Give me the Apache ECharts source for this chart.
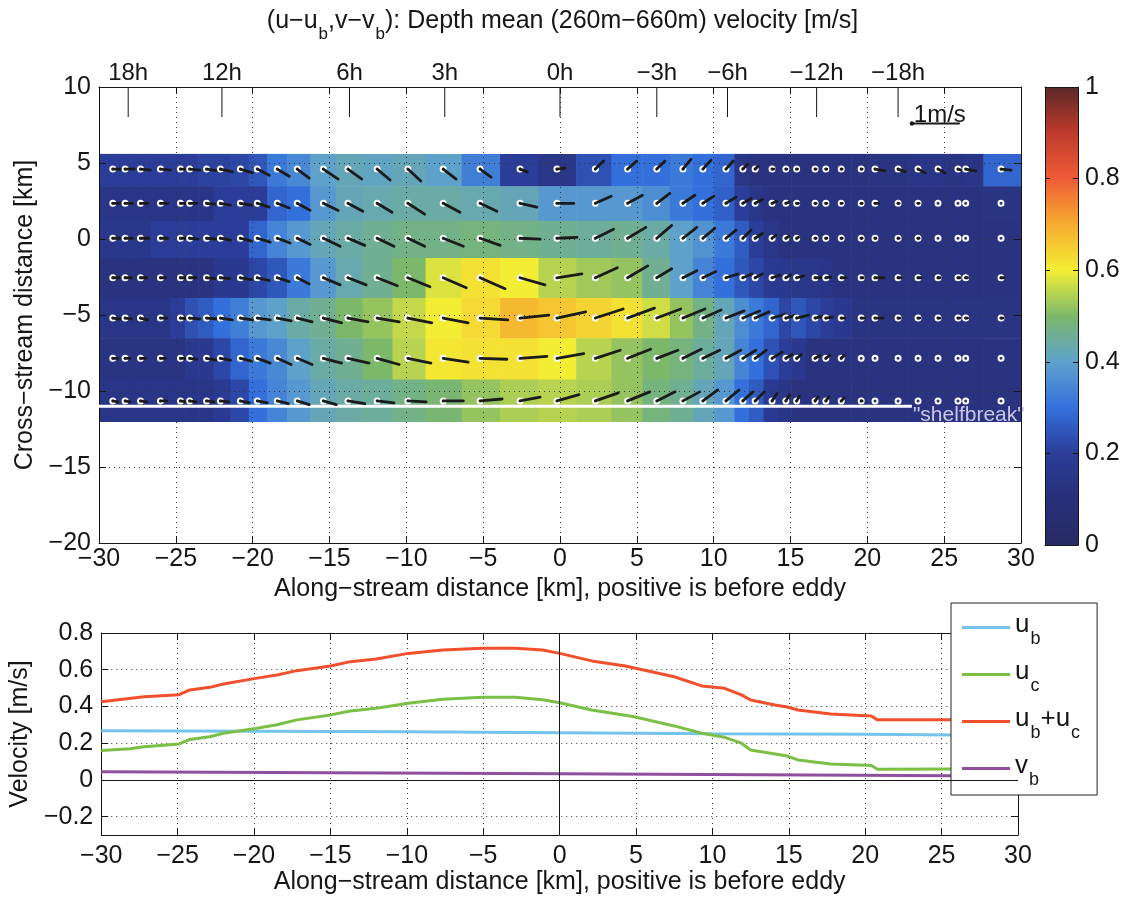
<!DOCTYPE html>
<html>
<head>
<meta charset="utf-8">
<script src="https://cdn.jsdelivr.net/npm/echarts@6/dist/echarts.min.js"></script>
<style>
  html, body { margin: 0; padding: 0; background: #fff; }
  #chart { width: 1125px; height: 901px; }
</style>
</head>
<body>
<div id="chart"></div>
<script>
// ---------------- data ----------------
// along-stream positions of the velocity profiles [km]
const stationKm = [-29.1,-28.3,-27.3,-26.0,-24.7,-24.1,-23.0,-22.1,-20.8,-19.7,-18.4,-17.1,-15.4,-13.8,-11.9,-9.9,-7.6,-5.2,-2.6,-0.2,
                   2.3,4.4,6.3,8.0,9.3,10.8,11.9,12.7,13.8,14.7,15.4,16.6,17.3,18.3,19.6,20.5,22.0,23.3,24.6,25.9,26.4,28.7];
// cross-stream positions of the profile rows [km], top to bottom
const rowKm = [4.6, 2.35, 0.05, -2.55, -5.2, -7.85, -10.65];
const fieldTopKm = 5.6;
const fieldBottomKm = -12.0;

// speed shown by the colour field [m/s], one array per row (top to bottom)
const speedRow1 = [0.2,0.2,0.2,0.2,0.2,0.2,0.21,0.21,0.22,0.25,0.32,0.35,0.4,0.42,0.41,0.42,0.4,0.33,0.2,0.15,0.24,0.3,0.3,0.32,0.3,0.28,0.15,0.12,0.12,0.12,0.12,0.12,0.12,0.12,0.12,0.13,0.13,0.14,0.14,0.13,0.14,0.28];
const speedRow2 = [0.14,0.14,0.14,0.14,0.14,0.14,0.14,0.2,0.2,0.2,0.28,0.3,0.38,0.42,0.43,0.44,0.44,0.43,0.42,0.38,0.38,0.38,0.36,0.32,0.3,0.27,0.2,0.15,0.12,0.12,0.12,0.12,0.12,0.12,0.12,0.12,0.12,0.12,0.12,0.12,0.12,0.13];
const speedRow3 = [0.16,0.16,0.16,0.2,0.2,0.2,0.2,0.2,0.2,0.28,0.34,0.38,0.42,0.44,0.46,0.47,0.47,0.48,0.47,0.46,0.45,0.46,0.44,0.4,0.37,0.32,0.26,0.2,0.15,0.12,0.12,0.12,0.12,0.12,0.12,0.12,0.12,0.12,0.12,0.12,0.12,0.12];
const speedRow4 = [0.12,0.12,0.12,0.12,0.12,0.12,0.12,0.17,0.17,0.22,0.25,0.32,0.38,0.43,0.46,0.5,0.58,0.62,0.6,0.55,0.53,0.52,0.46,0.4,0.34,0.3,0.25,0.22,0.18,0.17,0.16,0.15,0.14,0.12,0.12,0.12,0.12,0.12,0.12,0.12,0.12,0.12];
const speedRow5 = [0.14,0.14,0.14,0.14,0.2,0.24,0.26,0.3,0.33,0.38,0.4,0.44,0.46,0.5,0.52,0.56,0.6,0.63,0.68,0.66,0.64,0.62,0.57,0.52,0.47,0.42,0.36,0.32,0.28,0.22,0.25,0.22,0.2,0.17,0.13,0.13,0.13,0.13,0.13,0.13,0.13,0.13];
const speedRow6 = [0.13,0.13,0.13,0.13,0.13,0.17,0.17,0.22,0.28,0.32,0.35,0.4,0.44,0.46,0.5,0.55,0.61,0.62,0.62,0.6,0.55,0.52,0.5,0.48,0.45,0.42,0.34,0.3,0.24,0.2,0.17,0.12,0.12,0.12,0.12,0.12,0.12,0.12,0.12,0.12,0.12,0.12];
const speedRow7 = [0.14,0.14,0.14,0.14,0.14,0.14,0.14,0.18,0.22,0.3,0.34,0.38,0.42,0.44,0.45,0.47,0.49,0.52,0.54,0.55,0.54,0.52,0.48,0.46,0.42,0.38,0.3,0.26,0.18,0.15,0.12,0.12,0.12,0.12,0.12,0.12,0.12,0.12,0.12,0.12,0.12,0.12];

// velocity vectors (u east, v north) [m/s], one array per row
const uRow1 = [0.21,0.19,0.21,0.21,0.21,0.21,0.25,0.25,0.25,0.25,0.25,0.25,0.31,0.29,0.27,0.27,0.27,0.23,0.15,0.17,0.17,0.19,0.17,0.17,0.17,0.15,0.10,0.06,0.04,0.02,0.02,0.02,0.02,0.02,0.02,0.21,0.15,0.15,0.15,0.06,0.21,0.21];
const vRow1 = [0,0,-0.02,-0.02,0,-0.02,-0.04,-0.06,-0.08,-0.13,-0.15,-0.19,-0.21,-0.21,-0.23,-0.25,-0.21,-0.17,-0.06,0.02,0.17,0.17,0.17,0.21,0.19,0.17,0.10,0.06,0,0,0,0,0,0,0,-0.04,-0.06,-0.08,-0.08,-0.02,-0.04,-0.02];
const uRow2 = [0.15,0.15,0.15,0.15,0.15,0.15,0.17,0.21,0.23,0.25,0.25,0.27,0.31,0.31,0.31,0.35,0.35,0.35,0.35,0.35,0.33,0.31,0.27,0.25,0.23,0.21,0.17,0.15,0.10,0.06,0.04,0.02,0.02,0.02,0.02,0.08,0.02,0.02,0,0,0,0];
const vRow2 = [0,0,0,0,0,0,-0.02,-0.04,-0.04,-0.08,-0.10,-0.15,-0.15,-0.17,-0.19,-0.23,-0.19,-0.17,-0.08,0,0.15,0.17,0.21,0.17,0.15,0.13,0.10,0.08,0.04,0.02,0,0,0,0,0,0,0,0,0,0,0,0];
const uRow3 = [0.15,0.15,0.17,0.15,0.17,0.17,0.19,0.21,0.23,0.27,0.27,0.27,0.35,0.35,0.35,0.35,0.42,0.42,0.42,0.42,0.38,0.38,0.31,0.29,0.25,0.21,0.17,0.15,0.08,0.06,0.04,0.02,0.02,0.02,0.02,0.02,0.02,0.02,0,0,0,0];
const vRow3 = [0,0,0,0,0,-0.02,-0.02,-0.04,-0.06,-0.08,-0.10,-0.13,-0.17,-0.15,-0.17,-0.17,-0.17,-0.15,-0.02,0.02,0.19,0.23,0.27,0.23,0.21,0.17,0.17,0.10,0.06,0.04,0.02,0,0,0,0,0,0,0,0,0,0,0];
const uRow4 = [0.13,0.13,0.13,0.10,0.13,0.13,0.17,0.19,0.23,0.25,0.25,0.25,0.35,0.38,0.42,0.46,0.48,0.52,0.52,0.52,0.46,0.42,0.31,0.29,0.27,0.25,0.19,0.15,0.17,0.10,0.15,0.13,0.10,0.10,0.04,0.19,0.06,0.06,0.04,0.04,0.04,0.06];
const vRow4 = [0,0,0,0,0,0,-0.02,-0.02,-0.04,-0.06,-0.08,-0.13,-0.15,-0.15,-0.17,-0.19,-0.21,-0.23,-0.15,0.08,0.21,0.25,0.19,0.15,0.13,0.08,0.08,0.08,0.06,0.06,0.04,0,0.02,0,0,0,0,0,0,0,0,0];
const uRow5 = [0.15,0.13,0.15,0.13,0.21,0.21,0.23,0.25,0.25,0.27,0.29,0.31,0.38,0.42,0.46,0.50,0.52,0.58,0.60,0.60,0.58,0.56,0.50,0.46,0.38,0.38,0.35,0.29,0.27,0.21,0.25,0.17,0.13,0.08,0.06,0.17,0.04,0.04,0.04,0.04,0.04,0.04];
const vRow5 = [-0.02,-0.02,-0.04,0,-0.02,-0.02,-0.02,-0.04,-0.04,-0.04,-0.06,-0.08,-0.10,-0.08,-0.08,-0.10,-0.10,-0.04,0.06,0.13,0.19,0.21,0.19,0.19,0.17,0.15,0.15,0.13,0.08,0.06,0.06,0.04,0.02,0,0,0,0,0,0,0,0,0];
const uRow6 = [0.10,0.10,0.10,0.10,0.10,0.15,0.19,0.21,0.23,0.27,0.29,0.31,0.38,0.44,0.46,0.48,0.52,0.56,0.56,0.56,0.52,0.48,0.44,0.38,0.35,0.31,0.27,0.23,0.21,0.13,0.10,0.10,0.08,0.06,0,0,0,0,0,0,0,0];
const vRow6 = [0,0,0,0,0,-0.02,-0.04,-0.04,-0.06,-0.10,-0.13,-0.13,-0.10,-0.10,-0.13,-0.10,-0.08,-0.02,0.04,0.10,0.17,0.19,0.17,0.19,0.17,0.17,0.17,0.17,0.13,0.08,0.08,0.06,0.06,0.06,0,0,0,0,0,0,0,0];
const uRow7 = [0.10,0.10,0.13,0.13,0.13,0.13,0.15,0.17,0.19,0.21,0.23,0.25,0.27,0.35,0.35,0.38,0.42,0.46,0.42,0.46,0.48,0.46,0.38,0.35,0.31,0.27,0.21,0.19,0.10,0.08,0.06,0.06,0.06,0.06,0.02,0,0,0,0,0,0,0];
const vRow7 = [-0.02,-0.02,-0.02,0,-0.02,-0.02,-0.02,-0.02,-0.04,-0.04,-0.06,-0.08,-0.08,-0.06,-0.04,-0.02,0,0.04,0.08,0.13,0.17,0.19,0.19,0.19,0.23,0.23,0.19,0.19,0.15,0.13,0.10,0.08,0.08,0.06,0,0,0,0,0,0,0,0];

// reference vector
const refArrowAt = [22.9, 7.6];
const refSpeed = 1;

// shelf break
const shelfbreakKm = -11.0;
const shelfbreakEndKm = 22.9;

// elapsed-time markers along the section
const timeKm = [-28.1, -22.0, -13.7, -7.5, 0, 6.3, 10.9, 16.7, 22.0];
const timeLabels = ['18h', '12h', '6h', '3h', '0h', '\u22123h', '\u22126h', '\u221212h', '\u221218h'];

// lower panel: velocity components along the section [km, m/s]
const ubLine = [[-30,0.268],[-20,0.265],[-10,0.262],[0,0.257],[10,0.252],[20,0.248],[25.8,0.245]];
const ucLine = [[-30,0.16],[-28.1,0.17],[-27.2,0.18],[-24.9,0.196],[-24.2,0.22],[-22.9,0.235],[-22.0,0.254],[-19.9,0.28],[-18.5,0.30],[-17.2,0.327],[-15.0,0.354],[-13.7,0.375],[-12.0,0.39],[-9.9,0.417],[-7.65,0.439],[-5.05,0.45],[-2.9,0.45],[-1.1,0.437],[0,0.42],[2.1,0.381],[4.8,0.345],[7.5,0.294],[9.3,0.254],[10.8,0.232],[11.9,0.2],[12.5,0.163],[14.1,0.141],[14.9,0.13],[15.6,0.109],[17.75,0.087],[20.4,0.078],[20.8,0.058],[25.8,0.06]];
const ubucLine = [[-30,0.426],[-27.2,0.453],[-24.9,0.464],[-24.2,0.49],[-22.9,0.504],[-22.0,0.522],[-19.9,0.553],[-18.5,0.571],[-17.2,0.595],[-15.0,0.62],[-13.7,0.644],[-12.0,0.658],[-9.9,0.689],[-7.65,0.707],[-5.05,0.717],[-2.9,0.717],[-1.1,0.707],[0,0.689],[2.1,0.648],[4.3,0.62],[7.5,0.562],[9.3,0.512],[10.8,0.499],[11.9,0.463],[12.5,0.435],[14.1,0.408],[14.9,0.397],[15.6,0.381],[17.75,0.359],[20.4,0.348],[20.8,0.327],[25.8,0.327]];
const vbLine = [[-30,0.045],[0,0.033],[25.8,0.022]];

// ---------------- styling ----------------
const FONT = '"Liberation Sans", Arial, Helvetica, sans-serif';
const INK = '#161616';
const FS = 25;
const CMAP = ['#262a62','#28307a','#2b3d98','#3470dc','#5ea2cc','#7cb86a','#f3ee34','#f6ac2f','#ef5c36','#bf3a2c','#5c2828'];
const KM_PER_MS = 3.12;   // quiver scale: 1 m/s drawn as 3.12 km

const speedRows = [speedRow1, speedRow2, speedRow3, speedRow4, speedRow5, speedRow6, speedRow7];
const uRows = [uRow1, uRow2, uRow3, uRow4, uRow5, uRow6, uRow7];
const vRows = [vRow1, vRow2, vRow3, vRow4, vRow5, vRow6, vRow7];

// cell edges halfway between neighbouring profiles
const xEdges = [-30];
for (let i = 0; i < stationKm.length - 1; i++) xEdges.push((stationKm[i] + stationKm[i + 1]) / 2);
xEdges.push(30);
const yEdges = [fieldTopKm];
for (let r = 0; r < rowKm.length - 1; r++) yEdges.push((rowKm[r] + rowKm[r + 1]) / 2);
yEdges.push(fieldBottomKm);

const cellData = [];
const arrowData = [];
speedRows.forEach((row, r) => {
  row.forEach((s, c) => {
    cellData.push([xEdges[c], xEdges[c + 1], yEdges[r + 1], yEdges[r], s]);
    arrowData.push([stationKm[c], rowKm[r], uRows[r][c], vRows[r][c]]);
  });
});

function signed(v) {
  const r = Math.round(v * 10) / 10;
  if (r === 0) return '0';
  return (r < 0 ? '\u2212' : '') + Math.abs(r);
}

const dotted = { show: true, lineStyle: { color: '#333333', type: [1, 4], width: 1 } };
const axisLineK = { show: true, onZero: false, lineStyle: { color: INK, width: 1 } };
const tickIn = { show: true, inside: true, length: 7, lineStyle: { color: INK, width: 1 } };
const labelStyle = { fontSize: FS, color: INK, fontFamily: FONT };

function boxAxis(extra) {
  return Object.assign({
    type: 'value', axisLine: axisLineK, axisTick: tickIn,
    axisLabel: { show: false }, splitLine: { show: false }, z: 3
  }, extra);
}

// rich text with TeX-like subscripts
function richStyles(F, Fs, drop) {
  return {
    m: { fontSize: F, lineHeight: F + 5, verticalAlign: 'top', fontFamily: FONT, color: INK },
    s: { fontSize: Fs, lineHeight: Fs + 3, verticalAlign: 'top', fontFamily: FONT, color: INK, padding: [drop, 0, 0, 1] }
  };
}
const legendText = {
  'u_b': '{m|u}{s|b}',
  'u_c': '{m|u}{s|c}',
  'u_b+u_c': '{m|u}{s|b}{m|+u}{s|c}',
  'v_b': '{m|v}{s|b}'
};

// ---------------- render helpers ----------------
function renderCell(params, api) {
  const a = api.coord([api.value(0), api.value(3)]);
  const b = api.coord([api.value(1), api.value(2)]);
  return {
    type: 'rect',
    shape: { x: a[0], y: a[1], width: b[0] - a[0] + 0.6, height: b[1] - a[1] + 0.6 },
    style: { fill: api.visual('color') }
  };
}

function renderArrow(params, api) {
  const x = api.value(0), y = api.value(1), u = api.value(2), v = api.value(3);
  const p0 = api.coord([x, y]);
  const p1 = api.coord([x + u * KM_PER_MS, y + v * KM_PER_MS]);
  return {
    type: 'group',
    children: [
      { type: 'circle', shape: { cx: p0[0], cy: p0[1], r: 2.5 }, style: { fill: 'none', stroke: '#ffffff', lineWidth: 2 } },
      { type: 'line', shape: { x1: p0[0], y1: p0[1], x2: p1[0], y2: p1[1] }, style: { stroke: '#1b1b1b', lineWidth: 2.8, lineCap: 'round' } }
    ]
  };
}

function renderRefArrow(params, api) {
  const x = api.value(0), y = api.value(1), s = api.value(2);
  const p0 = api.coord([x, y]);
  const p1 = api.coord([x + s * KM_PER_MS, y]);
  return {
    type: 'group',
    children: [
      { type: 'line', shape: { x1: p0[0], y1: p0[1], x2: p1[0], y2: p1[1] }, style: { stroke: '#1b1b1b', lineWidth: 2 } },
      { type: 'circle', shape: { cx: p0[0], cy: p0[1], r: 2.2 }, style: { fill: '#1b1b1b' } },
      { type: 'text', x: (p0[0] + p1[0]) / 2 + 4, y: p0[1] + 4,
        style: { text: s + 'm/s', fontSize: 24, fontFamily: FONT, fill: INK, align: 'center', verticalAlign: 'bottom' } }
    ]
  };
}

function renderShelf(params, api) {
  const p0 = api.coord([-30, api.value(1)]);
  const p1 = api.coord([api.value(0), api.value(1)]);
  return {
    type: 'group',
    children: [
      { type: 'line', shape: { x1: p0[0], y1: p0[1], x2: p1[0], y2: p1[1] }, style: { stroke: '#ffffff', lineWidth: 3 } },
      { type: 'text', x: p1[0] + 1, y: p1[1] + 9,
        style: { text: '"shelfbreak"', fontSize: 21, fontFamily: FONT, fill: '#cbc6e6', align: 'left', verticalAlign: 'middle' } }
    ]
  };
}

function renderTimeMark(params, api) {
  const p = api.coord([api.value(0), 10]);
  return {
    type: 'group',
    children: [
      { type: 'line', shape: { x1: p[0], y1: p[1], x2: p[0], y2: p[1] + 30 }, style: { stroke: INK, lineWidth: 1 } },
      { type: 'text', x: p[0], y: p[1] - 2,
        style: { text: timeLabels[params.dataIndex], fontSize: 24, fontFamily: FONT, fill: INK, align: 'center', verticalAlign: 'bottom' } }
    ]
  };
}

function renderColorbar(params, api) {
  const a = api.coord([0, 1]);
  const b = api.coord([1, 0]);
  const stops = CMAP.map((c, i) => ({ offset: i / (CMAP.length - 1), color: c }));
  return {
    type: 'rect',
    shape: { x: a[0], y: a[1], width: b[0] - a[0], height: b[1] - a[1] },
    style: { fill: new echarts.graphic.LinearGradient(0, 1, 0, 0, stops) }
  };
}

// ---------------- chart ----------------
const chart = echarts.init(document.getElementById('chart'), null, { renderer: 'canvas' });

const option = {
  animation: false,
  backgroundColor: '#ffffff',
  title: {
    text: '{m|(u\u2212u}{s|b}{m|,v\u2212v}{s|b}{m|): Depth mean (260m\u2212660m) velocity [m/s]}',
    left: 'center', top: 4,
    textStyle: { fontWeight: 'normal', fontSize: FS, fontFamily: FONT, color: INK, rich: richStyles(FS, 17, 17) }
  },
  grid: [
    { left: 99, top: 87, width: 922, height: 456 },
    { left: 97, top: 633, width: 921, height: 202 },
    { left: 1045, top: 87, width: 33, height: 458 }
  ],
  visualMap: {
    type: 'continuous', show: false, min: 0, max: 1, dimension: 4, seriesIndex: 0,
    inRange: { color: CMAP }
  },
  legend: {
    orient: 'vertical', left: 951, top: 603,
    padding: [9, 17, 6, 11], itemGap: 11,
    itemWidth: 48, itemHeight: 3, icon: 'rect',
    backgroundColor: '#ffffff', borderColor: '#222', borderWidth: 1, borderRadius: 0,
    data: ['u_b', 'u_c', 'u_b+u_c', 'v_b'],
    formatter: name => legendText[name],
    textStyle: { rich: richStyles(26, 18, 18) }
  },
  xAxis: [
    Object.assign(boxAxis({ gridIndex: 0, position: 'bottom', min: -30, max: 30, interval: 5 }), {
      axisLabel: Object.assign({ margin: 4, formatter: signed }, labelStyle),
      splitLine: dotted,
      name: 'Along\u2212stream distance [km], positive is before eddy',
      nameLocation: 'middle', nameGap: 34, nameTextStyle: labelStyle
    }),
    boxAxis({ gridIndex: 0, position: 'top', min: -30, max: 30, interval: 5 }),
    Object.assign(boxAxis({ gridIndex: 1, position: 'bottom', min: -30, max: 30, interval: 5 }), {
      axisLabel: Object.assign({ margin: 9, formatter: signed }, labelStyle),
      splitLine: dotted,
      name: 'Along\u2212stream distance [km], positive is before eddy',
      nameLocation: 'middle', nameGap: 34, nameTextStyle: labelStyle
    }),
    boxAxis({ gridIndex: 1, position: 'top', min: -30, max: 30, interval: 5 }),
    boxAxis({ gridIndex: 2, position: 'bottom', min: 0, max: 1, axisTick: { show: false } }),
    boxAxis({ gridIndex: 2, position: 'top', min: 0, max: 1, axisTick: { show: false } })
  ],
  yAxis: [
    Object.assign(boxAxis({ gridIndex: 0, position: 'left', min: -20, max: 10, interval: 5 }), {
      axisLabel: Object.assign({ margin: 8, formatter: signed }, labelStyle),
      splitLine: dotted,
      name: 'Cross\u2212stream distance [km]',
      nameLocation: 'middle', nameGap: 56, nameTextStyle: labelStyle
    }),
    boxAxis({ gridIndex: 0, position: 'right', min: -20, max: 10, interval: 5 }),
    Object.assign(boxAxis({ gridIndex: 1, position: 'left', min: -0.3, max: 0.8, splitNumber: 5 }), {
      axisLabel: Object.assign({ margin: 8, formatter: signed, showMinLabel: false }, labelStyle),
      splitLine: dotted,
      name: 'Velocity [m/s]',
      nameLocation: 'middle', nameGap: 54, nameTextStyle: labelStyle
    }),
    boxAxis({ gridIndex: 1, position: 'right', min: -0.3, max: 0.8, splitNumber: 5 }),
    Object.assign(boxAxis({ gridIndex: 2, position: 'right', min: 0, max: 1, interval: 0.2 }), {
      axisTick: { show: true, inside: true, length: 5, lineStyle: { color: INK } },
      axisLabel: Object.assign({ margin: 7, formatter: signed }, labelStyle)
    }),
    Object.assign(boxAxis({ gridIndex: 2, position: 'left', min: 0, max: 1, interval: 0.2 }), {
      axisTick: { show: true, inside: true, length: 5, lineStyle: { color: INK } }
    })
  ],
  series: [
    {
      type: 'custom', name: 'speed', xAxisIndex: 0, yAxisIndex: 0, z: 2,
      renderItem: renderCell, data: cellData,
      encode: { x: [0, 1], y: [2, 3] }, silent: true
    },
    {
      type: 'custom', name: 'shelfbreak', xAxisIndex: 0, yAxisIndex: 0, z: 4,
      renderItem: renderShelf, data: [[shelfbreakEndKm, shelfbreakKm]],
      encode: { x: 0, y: 1 }, silent: true
    },
    {
      type: 'custom', name: 'velocity', xAxisIndex: 0, yAxisIndex: 0, z: 5,
      renderItem: renderArrow, data: arrowData,
      encode: { x: 0, y: 1 }, silent: true
    },
    {
      type: 'custom', name: 'reference', xAxisIndex: 0, yAxisIndex: 0, z: 5,
      renderItem: renderRefArrow, data: [[refArrowAt[0], refArrowAt[1], refSpeed]],
      encode: { x: 0, y: 1 }, silent: true
    },
    {
      type: 'custom', name: 'time', xAxisIndex: 0, yAxisIndex: 0, z: 5, clip: false,
      renderItem: renderTimeMark, data: timeKm.map(x => [x, 10]),
      encode: { x: 0, y: 1 }, silent: true
    },
    {
      type: 'custom', name: 'colorbar', xAxisIndex: 4, yAxisIndex: 4, z: 2,
      renderItem: renderColorbar, data: [[0, 0]], silent: true
    },
    {
      type: 'line', name: 'u_b', xAxisIndex: 2, yAxisIndex: 2, data: ubLine,
      symbol: 'none', lineStyle: { color: '#74c3ea', width: 3 }, itemStyle: { color: '#74c3ea' }, z: 3,
      markLine: {
        silent: true, symbol: ['none', 'none'], label: { show: false },
        lineStyle: { color: INK, type: 'solid', width: 1 },
        data: [{ xAxis: 0 }, { yAxis: 0 }]
      }
    },
    {
      type: 'line', name: 'u_c', xAxisIndex: 2, yAxisIndex: 2, data: ucLine,
      symbol: 'none', lineStyle: { color: '#7cbf46', width: 3 }, itemStyle: { color: '#7cbf46' }, z: 3
    },
    {
      type: 'line', name: 'u_b+u_c', xAxisIndex: 2, yAxisIndex: 2, data: ubucLine,
      symbol: 'none', lineStyle: { color: '#f2502c', width: 3 }, itemStyle: { color: '#f2502c' }, z: 3
    },
    {
      type: 'line', name: 'v_b', xAxisIndex: 2, yAxisIndex: 2, data: vbLine,
      symbol: 'none', lineStyle: { color: '#8e4f9e', width: 3 }, itemStyle: { color: '#8e4f9e' }, z: 3
    }
  ]
};

chart.setOption(option);
</script>
</body>
</html>
